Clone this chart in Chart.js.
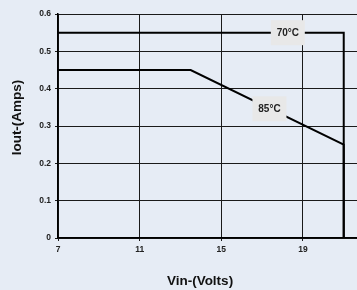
<!DOCTYPE html>
<html>
<head>
<meta charset="utf-8">
<script src="https://cdn.jsdelivr.net/npm/chart.js@4"></script>
<style>
  html, body { margin: 0; padding: 0; background: #e6ecf5; overflow: hidden; }
  #wrap { position: relative; width: 357px; height: 290px; }
</style>
</head>
<body>
<div id="wrap"><canvas id="chart" width="357" height="290"></canvas></div>
<script>
// curve points
const vin70 = [7, 21, 21];
const iout70 = [0.55, 0.55, 0];
const vin85 = [7, 13.5, 21, 21];
const iout85 = [0.45, 0.45, 0.25, 0];
const curveLabels = ['70°C', '85°C'];
const labelPos = [[18.26, 0.55], [17.36, 0.346]];
const xTicks = [7, 11, 15, 19];
const yTicks = [0, 0.1, 0.2, 0.3, 0.4, 0.5, 0.6];

const xMin = 7, xMax = 21.65;
const yMin = 0, yMax = 0.6;

const toPoints = (xs, ys) => xs.map((x, i) => ({ x: x, y: ys[i] }));

const tickFont = { family: 'Liberation Sans, Arial, sans-serif', size: 8.5, weight: 'bold' };

// boxed curve labels + axis titles (placed like the original, a bit off-centre)
const labelBoxes = {
  id: 'labelBoxes',
  afterDatasetsDraw(chart) {
    const c = chart.ctx;
    const xs = chart.scales.x, ys = chart.scales.y;
    c.save();
    c.font = 'bold 10px "Liberation Sans", Arial, sans-serif';
    c.textAlign = 'center';
    c.textBaseline = 'middle';
    curveLabels.forEach((txt, i) => {
      const px = xs.getPixelForValue(labelPos[i][0]);
      const py = ys.getPixelForValue(labelPos[i][1]);
      c.fillStyle = '#e8e8e8';
      c.fillRect(px - 17, py - 12.5, 34, 25);
      c.fillStyle = '#222';
      c.fillText(txt, px, py + 0.5);
    });
    c.font = 'bold 13.5px "Liberation Sans", Arial, sans-serif';
    c.fillStyle = '#111';
    c.fillText('Vin-(Volts)', 200, 281);
    c.translate(17.5, 117.5);
    c.rotate(-Math.PI / 2);
    c.fillText('Iout-(Amps)', 0, 0);
    c.restore();
  }
};

new Chart(document.getElementById('chart'), {
  type: 'scatter',
  data: {
    datasets: [
      {
        label: curveLabels[0],
        data: toPoints(vin70, iout70),
        showLine: true,
        borderColor: '#000',
        borderWidth: 2,
        pointRadius: 0,
        tension: 0
      },
      {
        label: curveLabels[1],
        data: toPoints(vin85, iout85),
        showLine: true,
        borderColor: '#000',
        borderWidth: 2,
        pointRadius: 0,
        tension: 0
      }
    ]
  },
  options: {
    responsive: false,
    animation: false,
    layout: { padding: { top: 14, right: 0, left: 0, bottom: 0 } },
    plugins: {
      legend: { display: false },
      tooltip: { enabled: false }
    },
    scales: {
      x: {
        type: 'linear',
        min: xMin,
        max: xMax,
        afterBuildTicks: (s) => { s.ticks = xTicks.map(v => ({ value: v })); },
        afterFit: (s) => { s.height = 52; },
        ticks: {
          color: '#222',
          font: tickFont,
          padding: 4,
          maxRotation: 0
        },
        grid: { color: '#1a1a1a', lineWidth: 1, tickLength: 3 },
        border: { color: '#000', width: 1.5 }
      },
      y: {
        min: yMin,
        max: yMax,
        afterBuildTicks: (s) => { s.ticks = yTicks.map(v => ({ value: v })); },
        afterFit: (s) => { s.width = 58; },
        ticks: {
          color: '#222',
          font: tickFont,
          padding: 4,
          callback: (v) => (v === 0 ? '0' : v.toFixed(1))
        },
        grid: { color: '#1a1a1a', lineWidth: 1, tickLength: 3 },
        border: { color: '#000', width: 1.5 }
      }
    }
  },
  plugins: [labelBoxes]
});
</script>
</body>
</html>
